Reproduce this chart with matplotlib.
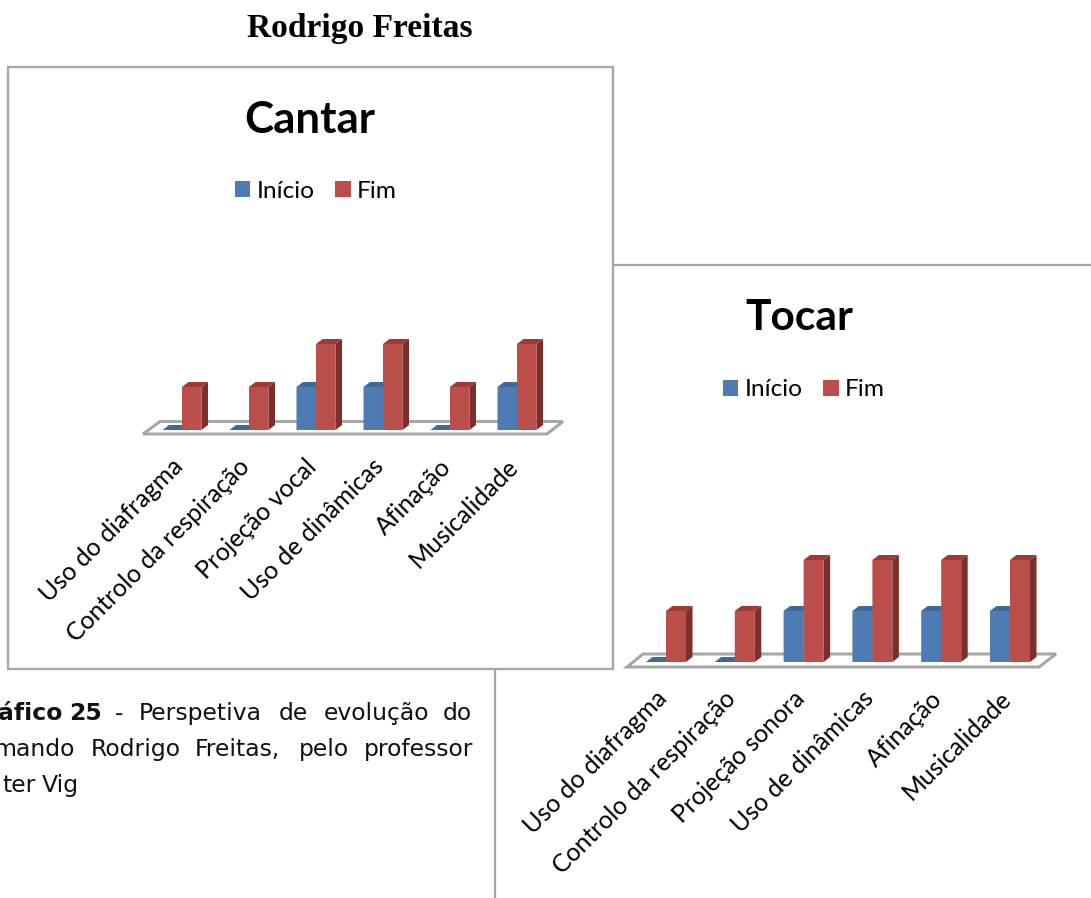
import matplotlib
matplotlib.use("Agg")
import matplotlib.pyplot as plt
from matplotlib.patches import Polygon, Rectangle
from matplotlib.transforms import ScaledTranslation

W, H = 1091, 898
DPI = 100

page_title = "Rodrigo Freitas"
series_names = ["Início", "Fim"]
cantar_categories = ["Uso do diafragma", "Controlo da respiração", "Projeção vocal",
                     "Uso de dinâmicas", "Afinação", "Musicalidade"]
cantar_inicio = [0, 0, 1, 1, 0, 1]
cantar_fim = [1, 1, 2, 2, 1, 2]
tocar_categories = ["Uso do diafragma", "Controlo da respiração", "Projeção sonora",
                    "Uso de dinâmicas", "Afinação", "Musicalidade"]
tocar_inicio = [0, 0, 1, 1, 1, 1]
tocar_fim = [1, 1, 2, 2, 2, 2]

caption_words = [
    [("áfico", -2, True), ("25", 69, True), ("-", 115, False), ("Perspetiva", 139, False),
     ("de", 279, False), ("evolução", 324, False), ("do", 443, False)],
    [("mando", -6, False), ("Rodrigo", 91, False), ("Freitas,", 195, False),
     ("pelo", 299, False), ("professor", 364, False)],
    [("ter", 2, False), ("Vig", 42, False)],
]
caption_base = [720, 756, 792]

GRAY = "#a6a6a6"
BLUE, BLUE_TOP, BLUE_SIDE = "#4f7bb4", "#40689a", "#385a85"
RED, RED_TOP, RED_SIDE = "#b94e4b", "#9d3a37", "#7c2e2b"
SANS = "Lato"

fig = plt.figure(figsize=(W / DPI, H / DPI), dpi=DPI, facecolor="white")
page = fig.add_axes([0, 0, 1, 1], zorder=0)
page.set_xlim(0, W)
page.set_ylim(H, 0)
page.axis("off")


def px(v):
    return v * 72 / DPI


page.add_patch(Rectangle((495, 265), 700, 800, fc="white", ec=GRAY, lw=px(2.3), zorder=1))
page.add_patch(Rectangle((8, 67), 605, 602, fc="white", ec=GRAY, lw=px(2.3), zorder=2))
page.text(360, 29, page_title, family="Liberation Serif", weight="bold",
          fontsize=px(33.5), ha="center", va="center", color="black", zorder=3)

for words, base in zip(caption_words, caption_base):
    for word, x, bold in words:
        page.text(x, base, word, family="DejaVu Sans", weight="bold" if bold else "normal",
                  fontsize=px(23.5), ha="left", va="baseline", color="#111111", zorder=1.5)


def chart(box, x0_px, step_px, unit_px, base_px, bar_px, floor, title, title_xy, title_px,
          legend_xy, cats, start, end, pad_px):
    left, top, right, bottom = box
    ax = fig.add_axes([left / W, 1 - bottom / H, (right - left) / W, (bottom - top) / H],
                      zorder=5)
    ax.patch.set_alpha(0)
    ax.set_xlim((left - x0_px) / step_px, (right - x0_px) / step_px)
    ax.set_ylim((base_px - bottom) / unit_px, (base_px - top) / unit_px)
    for s in ax.spines.values():
        s.set_visible(False)
    ax.set_yticks([])
    positions = list(range(len(cats)))
    ax.set_xticks(positions)
    ax.set_xticklabels(cats, rotation=45, ha="right", va="center", rotation_mode="anchor",
                       family=SANS, fontsize=px(24.8), color="black")
    ax.tick_params(axis="x", length=0, pad=px(pad_px))
    shift = ScaledTranslation(-3 / DPI, 0, fig.dpi_scale_trans)
    for lab in ax.get_xticklabels():
        lab.set_transform(lab.get_transform() + shift)

    xu = lambda p: p / step_px
    yu = lambda p: p / unit_px
    dx, dy = xu(6.5), yu(5)
    w = xu(bar_px)

    fl, fr, bl, br, fy, by = floor
    floor_pts = [((fl - x0_px) / step_px, (base_px - fy) / unit_px),
                 ((fr - x0_px) / step_px, (base_px - fy) / unit_px),
                 ((br - x0_px) / step_px, (base_px - by) / unit_px),
                 ((bl - x0_px) / step_px, (base_px - by) / unit_px)]
    ax.add_patch(Polygon(floor_pts, closed=True, fc="white", ec=GRAY, lw=px(3),
                         zorder=1, clip_on=False))

    def box3d(xl, v, topc, sidec, z):
        xr = xl + w
        ax.add_patch(Polygon([(xl, v), (xr, v), (xr + dx, v + dy), (xl + dx, v + dy)],
                             closed=True, fc=topc, ec="none", zorder=z))
        ax.add_patch(Polygon([(xr, 0), (xr + dx, dy), (xr + dx, v + dy), (xr, v)],
                             closed=True, fc=sidec, ec="none", zorder=z))

    for i, (a, b) in enumerate(zip(start, end)):
        box3d(i - w, a, BLUE_TOP, BLUE_SIDE, 2)
        box3d(i, b, RED_TOP, RED_SIDE, 4)
    h1 = ax.bar([p - w / 2 for p in positions], start, width=w, color=BLUE, zorder=3,
                label=series_names[0])
    h2 = ax.bar([p + w / 2 for p in positions], end, width=w, color=RED, zorder=5,
                label=series_names[1])
    for bars in (h1, h2):
        for r in bars:
            r.set_snap(False)

    page.text(title_xy[0], title_xy[1], title, family=SANS, weight="bold", fontsize=px(title_px),
              ha="center", va="center", color="black", zorder=3)
    leg = ax.legend([h1, h2], series_names, loc="center", ncol=2, frameon=False,
                    bbox_to_anchor=legend_xy, bbox_transform=page.transData,
                    prop={"family": SANS, "size": px(24.5)}, handlelength=0.62,
                    handleheight=0.62, handletextpad=0.25, columnspacing=0.85,
                    borderpad=0, borderaxespad=0)
    for t in leg.get_texts():
        t.set_color("black")
    return ax


chart((143, 335, 563, 436), 182, 67, 43, 430, 19.5,
      (143, 547, 160, 563, 434, 421.5), "Cantar", (310, 120), 44, (316, 191),
      cantar_categories, cantar_inicio, cantar_fim, 27)
chart((627, 550, 1056, 668), 666, 68.8, 51, 662, 20,
      (627, 1039, 643, 1056, 667, 654), "Tocar", (799, 318), 42.5, (804, 390),
      tocar_categories, tocar_inicio, tocar_fim, 27)

fig.savefig("out.png", dpi=DPI, facecolor="white")
